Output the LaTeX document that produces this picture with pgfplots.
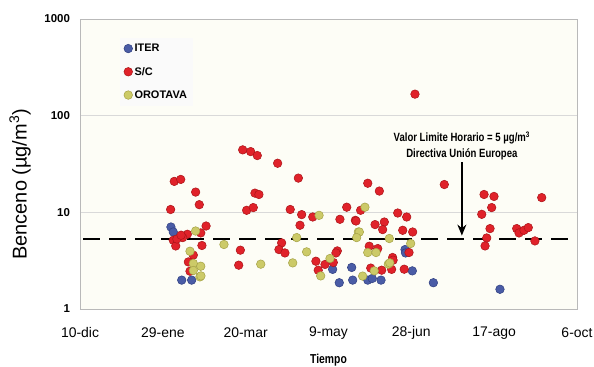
\documentclass[border=0pt]{standalone}
\usepackage{pgfplots}
\pgfplotsset{compat=1.18}
\usepackage{fontspec}
\setmainfont{Liberation Sans}
\newfontfamily\condb[FakeStretch=0.8]{Liberation Sans Bold}
\usetikzlibrary{arrows.meta}
\definecolor{cblue}{RGB}{74,92,166}
\definecolor{cblueD}{RGB}{46,62,128}
\definecolor{cred}{RGB}{224,34,42}
\definecolor{credD}{RGB}{170,20,24}
\definecolor{cyel}{RGB}{204,202,104}
\definecolor{cyelD}{RGB}{165,162,70}
\definecolor{ivory}{RGB}{253,253,246}
\begin{document}
\begin{tikzpicture}
\path[use as bounding box] (-80bp,-58bp) rectangle (514bp,309bp);
\begin{axis}[
  at={(0,0)}, anchor=south west,
  scale only axis, width=497bp, height=290bp,
  xmin=0, xmax=300, ymin=1, ymax=1000, ymode=log,
  xtick={0,50,100,150,200,250,300},
  xticklabels={10-dic,29-ene,20-mar,9-may,28-jun,17-ago,6-oct},
  ytick={1,10,100,1000}, yticklabels={1,10,100,1000},
  ymajorgrids, grid style={gray!30},
  tick style={draw=none},
  axis line style={gray!55},
  axis background/.style={fill=ivory},
  xticklabel style={font=\fontsize{14}{16}\selectfont, anchor=center, yshift=-24bp},
  yticklabel style={font=\bfseries\fontsize{11.5}{13}\selectfont, anchor=east, xshift=-6.5bp},
  xlabel={\condb\fontsize{13}{15}\selectfont Tiempo},
  xlabel style={at={(rel axis cs:0.5,0)}, anchor=center, yshift=-51bp},
  ylabel={\fontsize{20}{22}\selectfont Benceno (µg/m\textsuperscript{3})},
  ylabel style={at={(rel axis cs:-0.1207,0.43)}, anchor=center},
  legend style={at={(rel axis cs:0.08,0.935)}, anchor=north west, draw=none, fill=gray!4,
    font=\bfseries\fontsize{11}{13}\selectfont, row sep=10bp, inner sep=4bp},
  legend cell align=left,
  clip=false,
]
\addplot[only marks, mark=*, mark size=4.3bp, mark options={fill=cblue, draw=cblueD, line width=0.5bp}] coordinates {
(54.9,7.05) (56.3,6.26) (61.4,1.99) (67.4,1.99)
(152.5,2.57) (164.0,2.69) (156.5,1.87) (164.6,1.99)
(173.7,1.99) (176.4,2.07) (181.7,1.99) (196.2,4.12) (196.5,3.8) (200.6,2.48) (213.3,1.87)
(253.5,1.60)
};
\addlegendentry{ITER}
\addplot[only marks, mark=*, mark size=4.3bp, mark options={fill=cred, draw=credD, line width=0.5bp}] coordinates {
(56.9,20.9) (60.8,21.9) (69.8,16.2) (72.0,12.0) (54.7,10.7) (76.1,7.22) (72.9,6.12) (64.8,5.93)
(62.0,5.48) (56.3,5.14) (57.8,4.49) (73.6,4.54) (96.8,4.06) (95.8,2.84) (68.4,3.61) (65.4,3.07)
(66.4,2.46) (58.5,5.3) (61,5.8)
(98.2,44.3) (103.0,42.5) (107.0,38.7) (119.3,32.2) (131.8,22.6) (105.6,15.8) (108.0,15.3)
(100.6,10.5) (104.6,11.2) (126.9,10.7) (133.8,9.47) (140.5,8.95) (132.8,7.35) (156.9,8.47)
(161.0,11.3) (166.2,8.27) (121.7,4.83) (120.1,4.12) (123.7,3.80) (142.4,3.12) (143.8,2.52)
(147.9,2.89) (155.3,3.99) (154.5,3.80) (152.9,3.03)
(202.2,167) (219.9,19.4) (173.7,20.0) (180.7,16.6) (169.4,10.5) (166.6,8.13) (178.1,7.47)
(183.7,7.94) (182.7,6.63) (191.8,9.84) (197.2,8.95) (194.8,6.52) (200.8,6.26) (174.6,4.46)
(179.7,4.22) (188.7,3.41) (189,3.2) (175.5,2.65) (182.1,2.52) (188.1,2.57) (195.7,2.58) (198.6,3.84)
(243.9,15.3) (249.9,14.6) (248.5,11.2) (242.5,9.54) (278.7,14.2) (247.5,6.79) (245.5,5.43)
(244.5,4.49) (263.6,6.79) (265.0,6.12) (268.0,6.52) (270.6,6.95) (274.6,5.06)
};
\addlegendentry{S/C}
\addplot[only marks, mark=*, mark size=4.3bp, mark options={fill=cyel, draw=cyelD, line width=0.5bp}] coordinates {
(69.8,6.41) (86.9,4.65) (66.4,3.96) (68.4,2.96) (72.9,2.77) (68.4,2.5) (72.4,2.15) (73,2.2)
(144.3,9.31) (130.8,5.48) (136.8,3.90) (109.1,2.91) (128.4,3.00) (145.3,2.20) (150.9,3.33) (168.0,6.26)
(172.0,11.3) (168.6,6.26) (167.0,5.48) (186.7,5.36) (199.6,4.76) (173.7,3.84) (178.7,3.84)
(186.1,2.91) (187,3.0) (170.6,2.19) (177.6,2.48)
};
\addlegendentry{OROTAVA}
\addplot[black, line width=2.4bp, dash pattern=on 17bp off 9bp, forget plot] coordinates {(2,5.3) (298,5.3)};
\draw[line width=1.5bp, -{Stealth[length=11bp, width=9bp]}] (axis cs:230.5,32.8) -- (axis cs:230.5,5.75);
\node[align=center, font=\condb\fontsize{12}{16}\selectfont] at (axis cs:230.5,48.5)
  {Valor Limite Horario = 5 µg/m\textsuperscript{3}\\Directiva Unión Europea};
\end{axis}
\end{tikzpicture}
\end{document}
